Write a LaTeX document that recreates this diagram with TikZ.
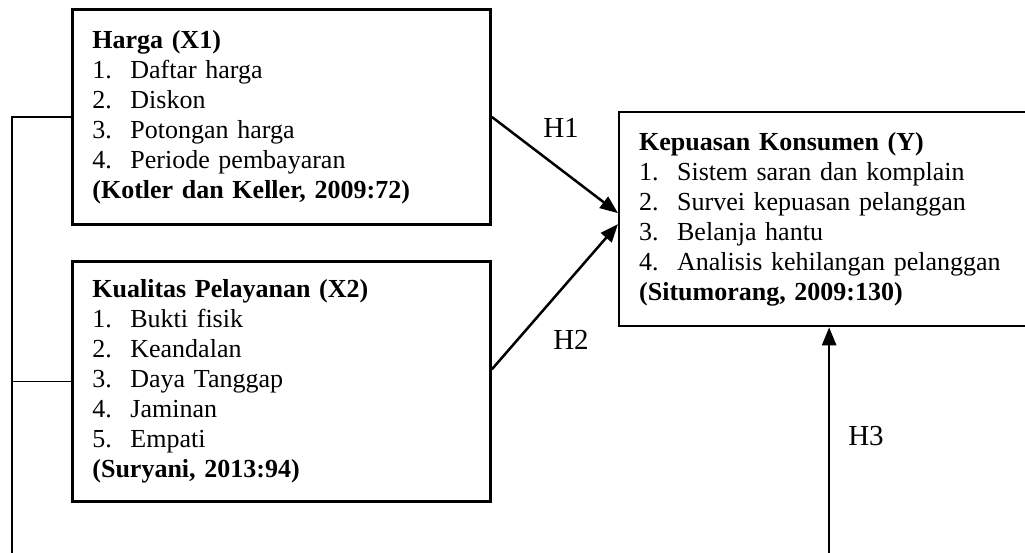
\documentclass[tikz,border=0pt]{standalone}
\usepackage{fontspec}
\setmainfont{Liberation Serif}
\usetikzlibrary{arrows.meta,positioning}
\tikzstyle{kotak}=[rectangle, draw, line width=2.8pt, anchor=north west, align=left, inner xsep=20pt, font=\fontsize{26}{30}\selectfont]
\tikzstyle{panah}=[line width=2.5pt, -{Triangle[length=18pt,width=14pt]}]
\tikzstyle{hipo}=[font=\fontsize{29}{33}\selectfont]
\newcommand{\butir}[2]{\makebox[38pt][l]{#1}#2}

\begin{document}
\begin{tikzpicture}[x=1pt,y=-1pt]
	\useasboundingbox (0,0) rectangle (1025,553);
	\clip (0,0) rectangle (1025,553);

	%%% variabel bebas
	\node[kotak,text width=378pt,minimum height=215pt] (harga) at (71,8) {\textbf{Harga (X1)}\\
		\butir{1.}{Daftar harga}\\
		\butir{2.}{Diskon}\\
		\butir{3.}{Potongan harga}\\
		\butir{4.}{Periode pembayaran}\\
		\textbf{(Kotler dan Keller, 2009:72)}};

	\node[kotak,text width=378pt,minimum height=240pt] (layanan) at (71,260) {\textbf{Kualitas Pelayanan (X2)}\\
		\butir{1.}{Bukti fisik}\\
		\butir{2.}{Keandalan}\\
		\butir{3.}{Daya Tanggap}\\
		\butir{4.}{Jaminan}\\
		\butir{5.}{Empati}\\
		\textbf{(Suryani, 2013:94)}};

	%%% variabel terikat
	\node[kotak,line width=2.3pt,text width=380pt,minimum height=214pt] (kepuasan) at (618,111) {\textbf{Kepuasan Konsumen (Y)}\\
		\butir{1.}{Sistem saran dan komplain}\\
		\butir{2.}{Survei kepuasan pelanggan}\\
		\butir{3.}{Belanja hantu}\\
		\butir{4.}{Analisis kehilangan pelanggan}\\
		\textbf{(Situmorang, 2009:130)}};

	% hipotesis parsial
	\draw[panah] (harga.east) -- ([yshift=6pt]kepuasan.west);
	\draw[panah] ([yshift=12pt]layanan.east) -- ([yshift=-5pt]kepuasan.west);
	\node[hipo] (h1) at (561,128) {H1};
	\node[hipo] (h2) at (571,340) {H2};

	% hipotesis simultan
	\coordinate (sudutKiri) at (12,114);
	\coordinate (bawahH3) at (kepuasan.south |- 0,560);
	\draw[line width=1.3pt] (harga.west) -- (harga.west -| sudutKiri) -- (sudutKiri |- 0,560);
	\draw[line width=1.3pt] (layanan.west) -- (layanan.west -| sudutKiri);
	\draw[panah] (bawahH3) -- (kepuasan.south);
	\node[hipo] (h3) at (866,436) {H3};
\end{tikzpicture}
\end{document}
